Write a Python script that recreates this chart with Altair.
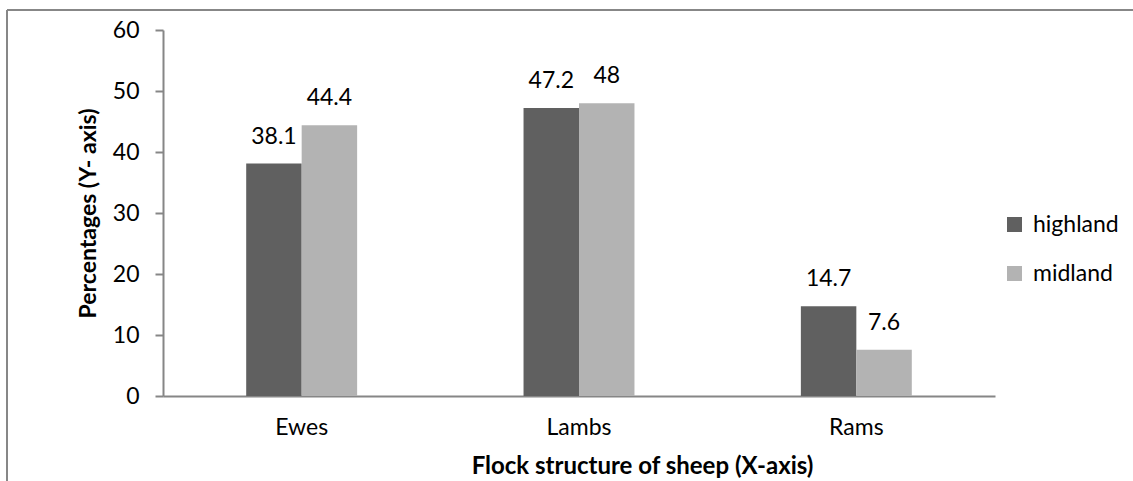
import altair as alt
import pandas as pd

# Flock structure of sheep by agro-ecology (percent of flock)
categories = ["Ewes", "Lambs", "Rams"]
zones = ["highland", "midland"]
highland = [38.1, 47.2, 14.7]
midland = [44.4, 48.0, 7.6]
zone_colors = ["#606060", "#b3b3b3"]

rows = []
for i, cat in enumerate(categories):
    rows.append({"group": cat, "zone": "highland", "pct": highland[i]})
    rows.append({"group": cat, "zone": "midland", "pct": midland[i]})
df = pd.DataFrame(rows)

FONT = "Lato"
FS = 23
W, H = 832, 366

x_enc = alt.X(
    "group:N",
    sort=categories,
    scale=alt.Scale(paddingInner=0.6, paddingOuter=0.3),
    axis=alt.Axis(
        title="Flock structure of sheep (X-axis)",
        labelAngle=0,
        ticks=False,
        labelPadding=20,
        labelBaseline="top",
        labelFontSize=FS,
        labelColor="#000000",
        domainColor="#868686",
        domainWidth=2,
        titleFontSize=24,
        titleFontWeight="bold",
        titleColor="#000000",
        titleX=479,
        titleY=70,
        titleBaseline="middle",
        titleAlign="center",
    ),
)
xoff = alt.XOffset("zone:N", sort=zones, scale=alt.Scale(paddingInner=0, paddingOuter=0))
y_enc = alt.Y(
    "pct:Q",
    scale=alt.Scale(domain=[0, 60], nice=False),
    axis=alt.Axis(
        title="Percentages (Y- axis)",
        values=[0, 10, 20, 30, 40, 50, 60],
        grid=False,
        tickSize=8,
        tickColor="#868686",
        tickWidth=2,
        labelPadding=16,
        labelFontSize=FS,
        labelColor="#000000",
        domainColor="#868686",
        domainWidth=2,
        titleFontSize=FS,
        titleFontWeight="bold",
        titleColor="#000000",
        titleAngle=270,
        titleX=-75,
        titleY=183,
        titleBaseline="middle",
        titleAlign="center",
    ),
)

bars = alt.Chart(df).mark_bar(strokeWidth=0).encode(
    x=x_enc,
    xOffset=xoff,
    y=y_enc,
    color=alt.Color(
        "zone:N",
        sort=zones,
        scale=alt.Scale(domain=zones, range=zone_colors),
        legend=alt.Legend(
            title=None,
            orient="none",
            legendX=840,
            legendY=183,
            symbolType="square",
            symbolSize=225,
            symbolStrokeWidth=0,
            labelFontSize=FS,
            labelColor="#000000",
            labelOffset=7,
            rowPadding=25,
            padding=0,
        ),
    ),
)

labels = alt.Chart(df).mark_text(
    fontSize=FS, baseline="middle", align="center", dy=-27, color="#000000"
).encode(
    x=alt.X("group:N", sort=categories),
    xOffset=alt.XOffset("zone:N", sort=zones),
    y=alt.Y("pct:Q"),
    text=alt.Text("pct:Q"),
)

# Outer chart frame (top and left edges)
frame_df = pd.DataFrame({"k": [0]})
frame_top = alt.Chart(frame_df).mark_rule(color="#878787", strokeWidth=2).encode(
    x=alt.value(-156), x2=alt.value(1000), y=alt.value(-20)
)
frame_left = alt.Chart(frame_df).mark_rule(color="#878787", strokeWidth=2).encode(
    x=alt.value(-156), y=alt.value(-20), y2=alt.value(480)
)

chart = alt.layer(bars, labels, frame_top, frame_left).properties(
    width=W,
    height=H,
    autosize=alt.AutoSizeParams(type="none"),
    padding={"left": 163, "top": 30, "right": 138, "bottom": 85},
).configure(
    font=FONT,
    background="#ffffff",
).configure_view(stroke=None)

chart.save("out.html", embed_options={"renderer": "svg", "actions": False})
